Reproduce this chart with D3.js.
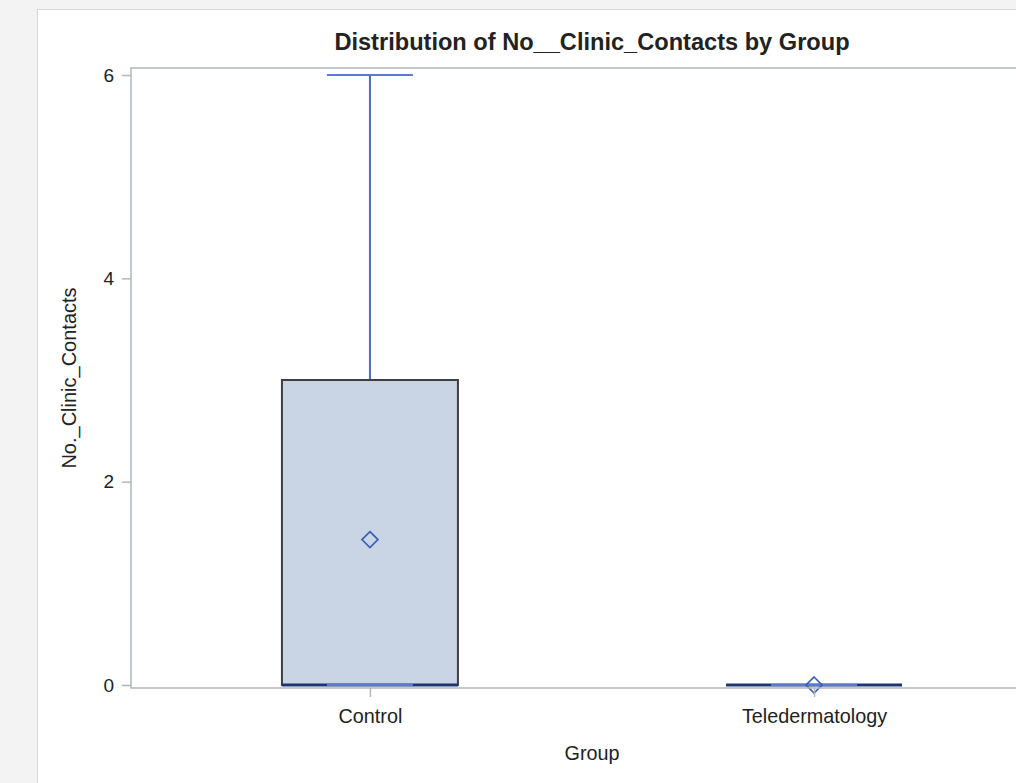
<!DOCTYPE html>
<html>
<head>
<meta charset="utf-8">
<script src="https://cdn.jsdelivr.net/npm/d3@7"></script>
<style>
  html, body { margin: 0; padding: 0; background: #f3f3f3; }
  svg { display: block; }
  text { font-family: "Liberation Sans", Arial, sans-serif; fill: #222; }
</style>
</head>
<body>
<script>
// Box-plot summary statistics per group
const groups  = ["Control", "Teledermatology"];
const minVals = [0, 0];
const q1Vals  = [0, 0];
const medVals = [0, 0];
const q3Vals  = [3, 0];
const maxVals = [6, 0];
const meanVals = [1.43, 0];
const yTicks = [0, 2, 4, 6];

const W = 1016, H = 783;
const plot = { left: 131, top: 68, right: 1053, bottom: 688 };
const FONT = '"Liberation Sans", Arial, sans-serif';

const svg = d3.select("body").append("svg")
  .attr("width", W).attr("height", H);

// page panel
svg.append("rect")
  .attr("x", 37.5).attr("y", 9.5)
  .attr("width", W + 10).attr("height", H + 10)
  .attr("fill", "#fff").attr("stroke", "#d6d6d6");

const x = d3.scalePoint()
  .domain(groups)
  .range([plot.left, plot.right])
  .padding(0.538);

const y = d3.scaleLinear()
  .domain([-0.0295, 6.069])
  .range([plot.bottom, plot.top]);

const boxW = 176, capW = 86;

const rows = groups.map((g, i) => ({
  g, min: minVals[i], q1: q1Vals[i], med: medVals[i],
  q3: q3Vals[i], max: maxVals[i], mean: meanVals[i]
}));

const gBox = svg.append("g");
const whiskerColor = "#4a6cc0";

rows.forEach(d => {
  const cx = x(d.g);
  // whiskers
  gBox.append("line")
    .attr("x1", cx).attr("x2", cx)
    .attr("y1", y(d.q3)).attr("y2", y(d.max))
    .attr("stroke", whiskerColor).attr("stroke-width", 2);
  gBox.append("line")
    .attr("x1", cx).attr("x2", cx)
    .attr("y1", y(d.q1)).attr("y2", y(d.min))
    .attr("stroke", whiskerColor).attr("stroke-width", 2);
  // box
  gBox.append("rect")
    .attr("x", cx - boxW / 2)
    .attr("y", y(d.q3))
    .attr("width", boxW)
    .attr("height", Math.max(0, y(d.q1) - y(d.q3)))
    .attr("fill", "#c9d5e5")
    .attr("stroke", "#3f3f3f").attr("stroke-width", 2);
  // median
  gBox.append("line")
    .attr("x1", cx - boxW / 2).attr("x2", cx + boxW / 2)
    .attr("y1", y(d.med)).attr("y2", y(d.med))
    .attr("stroke", "#1c3570").attr("stroke-width", 3);
  // caps
  [d.max, d.min].forEach(v => {
    gBox.append("line")
      .attr("x1", cx - capW / 2).attr("x2", cx + capW / 2)
      .attr("y1", y(v)).attr("y2", y(v))
      .attr("stroke", "#5b7bd0").attr("stroke-width", 2);
  });
  // mean marker
  const s = 8;
  const my = y(d.mean);
  gBox.append("path")
    .attr("d", `M${cx},${my - s}L${cx + s},${my}L${cx},${my + s}L${cx - s},${my}Z`)
    .attr("fill", "none")
    .attr("stroke", "#3a5fb8").attr("stroke-width", 1.7);
});

// plot frame
svg.append("rect")
  .attr("x", plot.left).attr("y", plot.top)
  .attr("width", plot.right - plot.left)
  .attr("height", plot.bottom - plot.top)
  .attr("fill", "none")
  .attr("stroke", "#b2b6ba").attr("stroke-width", 1.5);

// y axis
const yAxis = svg.append("g")
  .attr("transform", `translate(${plot.left},0)`)
  .call(d3.axisLeft(y).tickValues(yTicks).tickSize(9).tickPadding(8).tickFormat(d3.format("d")));
yAxis.select(".domain").remove();
yAxis.selectAll(".tick line").attr("stroke", "#b2b6ba").attr("stroke-width", 1.5);
yAxis.selectAll(".tick text").attr("font-size", 19).attr("fill", "#222")
  .style("font-family", FONT);

// x axis
const xAxis = svg.append("g")
  .attr("transform", `translate(0,${plot.bottom})`)
  .call(d3.axisBottom(x).tickSize(9).tickPadding(12));
xAxis.select(".domain").remove();
xAxis.selectAll(".tick line").attr("stroke", "#b2b6ba").attr("stroke-width", 1.5);
xAxis.selectAll(".tick text").attr("font-size", 19.8).attr("fill", "#222")
  .style("font-family", FONT);

// titles
svg.append("text")
  .attr("x", (plot.left + plot.right) / 2).attr("y", 50)
  .attr("text-anchor", "middle")
  .attr("font-size", 23.6).attr("font-weight", "bold")
  .attr("fill", "#000")
  .text("Distribution of No__Clinic_Contacts by Group");

svg.append("text")
  .attr("x", (plot.left + plot.right) / 2).attr("y", 760)
  .attr("text-anchor", "middle")
  .attr("font-size", 19.8)
  .text("Group");

svg.append("text")
  .attr("transform", `translate(76,${(plot.top + plot.bottom) / 2}) rotate(-90)`)
  .attr("text-anchor", "middle")
  .attr("font-size", 20)
  .text("No._Clinic_Contacts");
</script>
</body>
</html>
